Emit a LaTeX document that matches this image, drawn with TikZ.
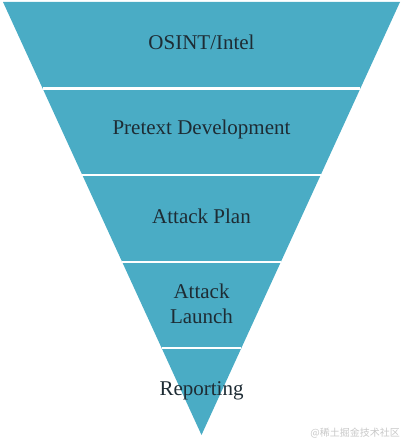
\documentclass[tikz,border=0pt]{standalone}
\usepackage{fontspec}
\setmainfont{Liberation Serif}
\newfontfamily\cjkfont{Noto Sans CJK SC}
\usepackage{tikz}
\usetikzlibrary{calc}
\definecolor{funnelteal}{RGB}{74,172,197}
\definecolor{labeldark}{RGB}{30,44,52}
\definecolor{wmgray}{RGB}{200,200,200}

\begin{document}
\begin{tikzpicture}[
  x=1pt, y=-1pt,
  band/.style={fill=funnelteal, draw=none},
  sep/.style={draw=white, line width=2.2pt},
  lbl/.style={
    font=\fontsize{21}{25}\selectfont, text=labeldark, align=center, inner sep=0pt
  },
  wmark/.style={font=\cjkfont\fontsize{10}{12}\selectfont, text=wmgray, anchor=south east, inner sep=0pt}
]
  \useasboundingbox (0,0) rectangle (403,441);
  \coordinate (tl) at (3,2);
  \coordinate (tr) at (400,2);
  \coordinate (apex) at (201.5,435);

  % funnel body
  \fill[band] (tl) -- (tr) -- (apex) -- cycle;
  \foreach \i in {1,...,4} {
    \draw[sep] ($(tl)!\i/5!(apex)$) -- ($(tr)!\i/5!(apex)$);
  }

  % stages
  \node[lbl] (osint)   at (201.5,42)  {OSINT/Intel};
  \node[lbl] (pretext) at (201.5,129) {Pretext Development};
  \node[lbl] (plan)    at (201.5,216) {Attack Plan};
  \node[lbl] (launch)  at (201.5,304) {Attack\\Launch};
  \node[lbl] (report)  at (201.5,391) {Reporting};

  \node[wmark] (wm) at (400,438) {@稀土掘金技术社区};
\end{tikzpicture}
\end{document}
